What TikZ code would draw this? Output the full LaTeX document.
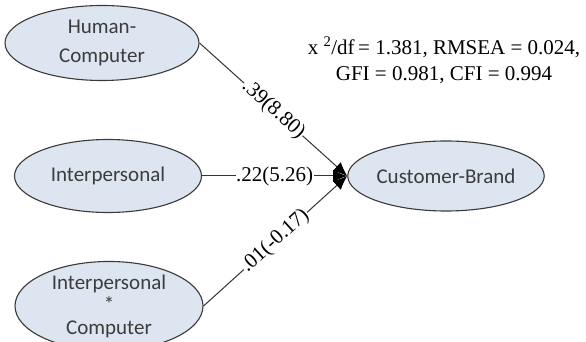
\documentclass[tikz,border=0pt]{standalone}
\usepackage{fontspec}
\setmainfont{Liberation Serif}
\newfontfamily\nodefont{Carlito}
\usetikzlibrary{shapes.geometric,arrows.meta}
\definecolor{ellfill}{RGB}{221,229,240}
\definecolor{ellline}{RGB}{58,58,58}
\definecolor{nodetext}{RGB}{60,60,60}
\tikzset{
  construct/.style={ellipse, draw=ellline, line width=1.1pt, fill=ellfill,
    inner sep=0pt, text=nodetext, align=center},
  path/.style={draw=black!80, line width=1pt,
    -{Latex[length=14pt,width=12pt,color=black,fill=black]}},
  coef/.style={midway, sloped, fill=white, inner sep=0.6pt,
    font=\fontsize{21}{24}\selectfont}
}
\begin{document}
\begin{tikzpicture}[x=1pt,y=1pt]
\useasboundingbox (0,0) rectangle (586,342);
\fill[white] (0,0) rectangle (586,342);

\node[construct, minimum width=194pt, minimum height=75pt,
  font=\nodefont\fontsize{21}{29}\selectfont] (hc) at (102,299) {Human-\\Computer};
\node[construct, minimum width=187pt, minimum height=73pt,
  font=\nodefont\fontsize{21}{25}\selectfont] (ip) at (108,166) {Interpersonal};
\node[construct, minimum width=188pt, minimum height=72pt,
  font=\nodefont\fontsize{21}{22.5}\selectfont] (ic) at (109,36) {Interpersonal\\*\\Computer};
\node[construct, minimum width=188pt, minimum height=70pt,
  font=\nodefont\fontsize{21}{25}\selectfont] (cb) at (446,166) {Customer-Brand};

\draw[path] (hc.east) -- node[coef] {.39(8.80)} (cb.west);
\draw[path] (ip.east) -- node[coef] {.22(5.26)} (cb.west);
\draw[path] (ic.east) -- node[coef] {.01(-0.17)} (cb.west);

\node[align=center, font=\fontsize{21}{26}\selectfont, inner sep=0pt] (fit) at (444,282)
  {x \textsuperscript{2}/df\,= 1.381, RMSEA = 0.024,\\GFI = 0.981, CFI = 0.994};
\end{tikzpicture}
\end{document}
